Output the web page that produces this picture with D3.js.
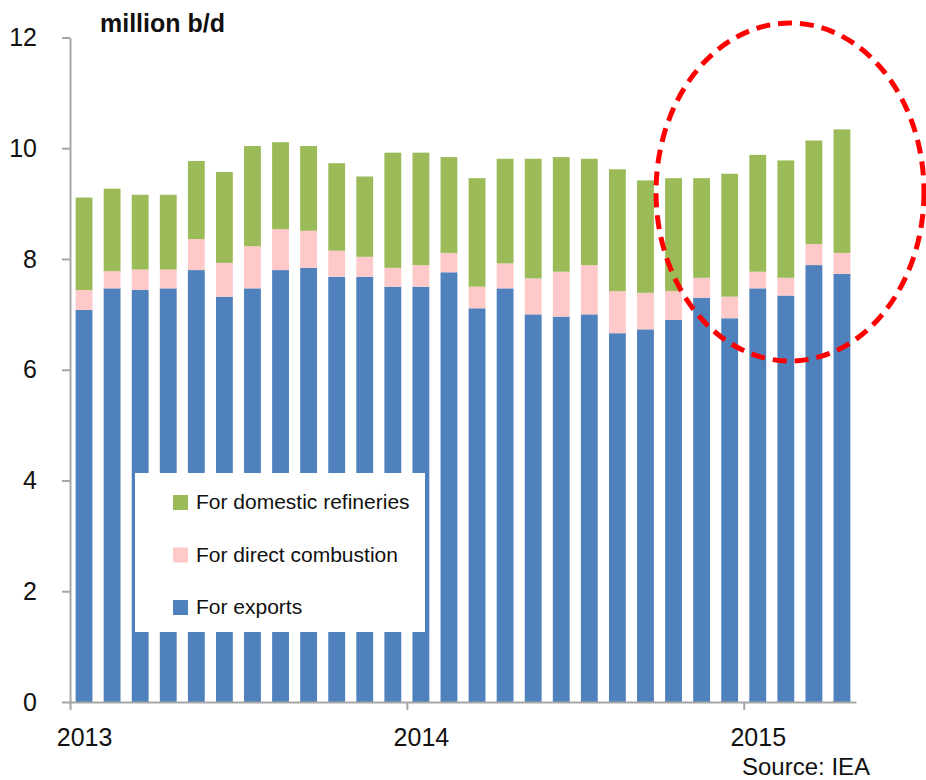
<!DOCTYPE html>
<html>
<head>
<meta charset="utf-8">
<script src="https://cdn.jsdelivr.net/npm/d3@7"></script>
<style>
  html, body { margin: 0; padding: 0; background: #fff; }
  svg { display: block; font-family: Arial, "Liberation Sans", sans-serif; }
</style>
</head>
<body>
<svg id="chart" width="926" height="780"></svg>
<script>
const months = [
  "2013-01","2013-02","2013-03","2013-04","2013-05","2013-06","2013-07","2013-08","2013-09","2013-10","2013-11","2013-12",
  "2014-01","2014-02","2014-03","2014-04","2014-05","2014-06","2014-07","2014-08","2014-09","2014-10","2014-11","2014-12",
  "2015-01","2015-02","2015-03","2015-04"
];
const forExports = [7.08,7.47,7.44,7.47,7.80,7.32,7.47,7.80,7.84,7.68,7.68,7.50,7.50,7.76,7.11,7.47,7.00,6.96,7.00,6.66,6.73,6.90,7.30,6.93,7.47,7.34,7.89,7.73];
const forCombustion = [0.36,0.31,0.37,0.34,0.56,0.61,0.76,0.74,0.67,0.47,0.36,0.34,0.39,0.35,0.39,0.45,0.65,0.81,0.89,0.76,0.66,0.52,0.36,0.39,0.30,0.32,0.38,0.38];
const forRefineries = [1.67,1.49,1.35,1.35,1.41,1.64,1.81,1.57,1.53,1.58,1.45,2.08,2.03,1.73,1.96,1.89,2.16,2.07,1.92,2.20,2.03,2.04,1.80,2.22,2.11,2.12,1.87,2.23];
const seriesNames = ["For exports","For direct combustion","For domestic refineries"];
const seriesColors = ["#4F81BD","#FFC9C9","#9BBB59"];
const yTicks = [0,2,4,6,8,10,12];
const yearTicks = [0,12,24];
const yearLabels = ["2013","2014","2015"];
const unitLabel = "million b/d";
const sourceLabel = "Source: IEA";

(function () {
const svg = d3.select("#chart");
const plotLeft = 70, plotRight = 856, plotTop = 37.5, plotBottom = 702;

const table = months.map((m, i) => ({
  month: m,
  "For exports": forExports[i],
  "For direct combustion": forCombustion[i],
  "For domestic refineries": forRefineries[i]
}));
const stacked = d3.stack().keys(seriesNames)(table);

const x = d3.scaleBand().domain(months).range([plotLeft, plotRight]).paddingInner(0.4).paddingOuter(0.2);
const xm = d3.scaleLinear().domain([0, months.length]).range([plotLeft, plotRight]);
const y = d3.scaleLinear().domain([0, 12]).range([plotBottom, plotTop]);
const color = d3.scaleOrdinal().domain(seriesNames).range(seriesColors);

// bars
svg.append("g").selectAll("g").data(stacked).join("g")
  .attr("fill", d => color(d.key))
  .selectAll("rect").data(d => d).join("rect")
  .attr("x", d => x(d.data.month))
  .attr("width", x.bandwidth())
  .attr("y", d => y(d[1]))
  .attr("height", d => y(d[0]) - y(d[1]));

// y axis
const yAxis = svg.append("g").attr("transform", `translate(${plotLeft},0)`)
  .call(d3.axisLeft(y).tickValues(yTicks).tickSize(8).tickSizeOuter(0).tickPadding(25).tickFormat(d3.format("d")));
yAxis.select(".domain").attr("stroke", "#a6a6a6").attr("stroke-width", 2);
yAxis.selectAll(".tick line").attr("stroke", "#a6a6a6").attr("stroke-width", 2);
yAxis.selectAll(".tick text").attr("fill", "#111").attr("font-size", 25)
  .attr("font-family", "Arial, 'Liberation Sans', sans-serif");

// x axis
const xAxis = svg.append("g").attr("transform", `translate(0,${plotBottom})`)
  .call(d3.axisBottom(xm).tickValues(yearTicks).tickSize(8).tickSizeOuter(0).tickPadding(18)
    .tickFormat((d, i) => yearLabels[i]));
xAxis.select(".domain").attr("stroke", "#a6a6a6").attr("stroke-width", 2);
xAxis.selectAll(".tick line").attr("stroke", "#a6a6a6").attr("stroke-width", 2);
xAxis.selectAll(".tick text").attr("fill", "#111").attr("font-size", 25)
  .attr("font-family", "Arial, 'Liberation Sans', sans-serif")
  .attr("dx", x.step() / 2);

// unit label
svg.append("text").attr("x", 100).attr("y", 32)
  .attr("font-size", 25).attr("font-weight", "bold").attr("fill", "#111")
  .text(unitLabel);

// legend
const lg = svg.append("g");
lg.append("rect").attr("x", 135).attr("y", 473).attr("width", 290).attr("height", 159).attr("fill", "#fff");
const legendOrder = seriesNames.slice().reverse();
const items = lg.selectAll("g.item").data(legendOrder).join("g").attr("class", "item")
  .attr("transform", (d, i) => `translate(173,${495 + i * 52.5})`);
items.append("rect").attr("width", 15).attr("height", 15).attr("fill", d => color(d));
items.append("text").attr("x", 23).attr("y", 14).attr("font-size", 21).attr("fill", "#111").text(d => d);

// highlight ellipse
svg.append("ellipse").attr("cx", 790).attr("cy", 192).attr("rx", 134).attr("ry", 169)
  .attr("fill", "none").attr("stroke", "#ff0000").attr("stroke-width", 5)
  .attr("stroke-dasharray", "14,8");

// source
svg.append("text").attr("x", 742).attr("y", 775).attr("font-size", 24).attr("fill", "#111").text(sourceLabel);
})();
</script>
</body>
</html>
